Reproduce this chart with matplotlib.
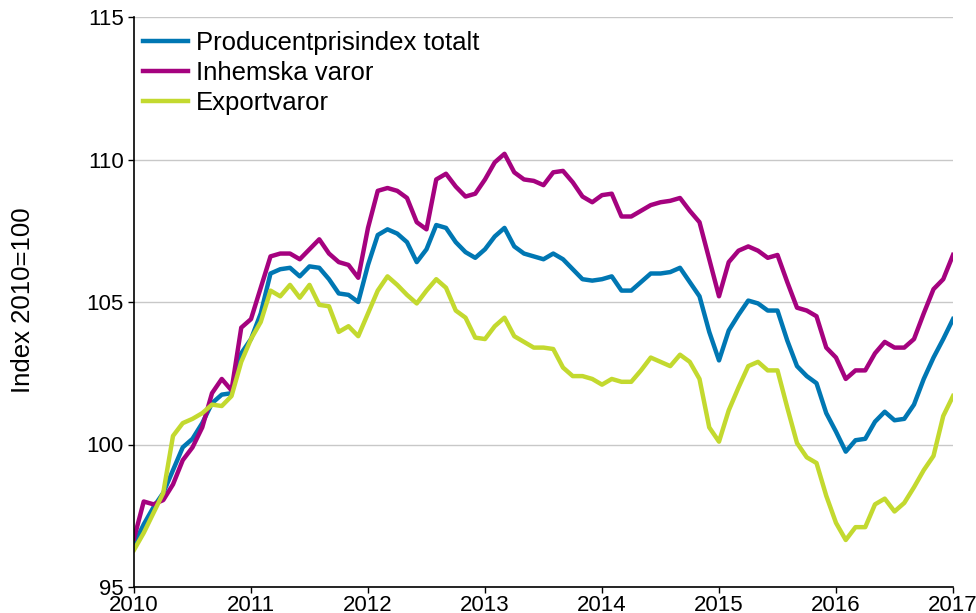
import numpy as np
import matplotlib.pyplot as plt

# monthly index values, Jan 2010 .. Jan 2017 (2010=100)
total = [
    96.5, 97.2, 97.8, 98.3, 99.1, 99.9, 100.2, 100.75, 101.45, 101.75, 101.8, 103.2,
    103.7, 104.6, 106.0, 106.15, 106.2, 105.9, 106.25, 106.2, 105.8, 105.3, 105.25, 105.0,
    106.3, 107.35, 107.55, 107.4, 107.1, 106.4, 106.85, 107.7, 107.6, 107.1, 106.75, 106.55,
    106.85, 107.3, 107.6, 106.95, 106.7, 106.6, 106.5, 106.7, 106.5, 106.15, 105.8, 105.75,
    105.8, 105.9, 105.4, 105.4, 105.7, 106.0, 106.0, 106.05, 106.2, 105.7, 105.2, 103.95,
    102.95, 104.0, 104.55, 105.05, 104.95, 104.7, 104.7, 103.65, 102.75, 102.4, 102.15, 101.1,
    100.45, 99.75, 100.15, 100.2, 100.8, 101.15, 100.85, 100.9, 101.4, 102.3, 103.05, 103.7,
    104.4,
]
domestic = [
    96.7, 98.0, 97.9, 98.05, 98.6, 99.45, 99.9, 100.6, 101.8, 102.3, 101.9, 104.1,
    104.4, 105.5, 106.6, 106.7, 106.7, 106.5, 106.85, 107.2, 106.7, 106.4, 106.3, 105.85,
    107.6, 108.9, 109.0, 108.9, 108.65, 107.8, 107.55, 109.3, 109.5, 109.05, 108.7, 108.8,
    109.3, 109.9, 110.2, 109.55, 109.3, 109.25, 109.1, 109.55, 109.6, 109.2, 108.7, 108.5,
    108.75, 108.8, 108.0, 108.0, 108.2, 108.4, 108.5, 108.55, 108.65, 108.2, 107.8, 106.5,
    105.2, 106.4, 106.8, 106.95, 106.8, 106.55, 106.65, 105.7, 104.8, 104.7, 104.5, 103.4,
    103.05, 102.3, 102.6, 102.6, 103.2, 103.6, 103.4, 103.4, 103.7, 104.6, 105.45, 105.8,
    106.65,
]
export = [
    96.3, 96.9, 97.6, 98.3, 100.3, 100.75, 100.9, 101.1, 101.4, 101.35, 101.7, 102.9,
    103.7, 104.3, 105.4, 105.2, 105.6, 105.15, 105.6, 104.9, 104.85, 103.95, 104.15, 103.8,
    104.6, 105.4, 105.9, 105.6, 105.25, 104.95, 105.4, 105.8, 105.5, 104.7, 104.45, 103.75,
    103.7, 104.15, 104.45, 103.8, 103.6, 103.4, 103.4, 103.35, 102.7, 102.4, 102.4, 102.3,
    102.1, 102.3, 102.2, 102.2, 102.6, 103.05, 102.9, 102.75, 103.15, 102.9, 102.3, 100.6,
    100.1, 101.2, 102.0, 102.75, 102.9, 102.6, 102.6, 101.3, 100.05, 99.55, 99.35, 98.2,
    97.25, 96.65, 97.1, 97.1, 97.9, 98.1, 97.65, 97.95, 98.5, 99.1, 99.6, 101.0,
    101.7,
]
labels = ["Producentprisindex totalt", "Inhemska varor", "Exportvaror"]
colors = ["#0077B3", "#A5027F", "#C3D92F"]
years = [2010, 2011, 2012, 2013, 2014, 2015, 2016, 2017]
yticks = [95, 100, 105, 110, 115]

plt.rcParams["font.family"] = ["Liberation Sans", "DejaVu Sans"]

x = 2010 + np.arange(len(total)) / 12

fig = plt.figure(figsize=(9.76, 6.13), dpi=100)
ax = fig.add_axes([134 / 976, 1 - 587 / 613, (953 - 134) / 976, 570 / 613])

for series, lab, col in zip([total, domestic, export], labels, colors):
    ax.plot(x, series, color=col, lw=3.2, label=lab, solid_joinstyle="round")

ax.set_xlim(2010, 2017)
ax.set_ylim(95, 115)
ax.set_xticks(years)
ax.set_xticklabels([str(y) for y in years])
ax.set_yticks(yticks)
ax.tick_params(labelsize=16, length=4, width=1, color="black")
ax.tick_params(axis="x", pad=2)
ax.grid(axis="y", color="#c8c8c8", lw=1)
ax.set_axisbelow(True)

for side in ["top", "right"]:
    ax.spines[side].set_visible(False)
ax.spines["left"].set_linewidth(1.2)
ax.spines["bottom"].set_linewidth(1.2)

ax.set_ylabel("Index 2010=100", fontsize=18.5)
ax.yaxis.set_label_coords(-0.121, 0.503)

ax.legend(loc="upper left", bbox_to_anchor=(0.011, 0.975), frameon=False,
          fontsize=18.5, handlelength=1.75, handletextpad=0.31,
          labelspacing=0.22, borderpad=0, borderaxespad=0)

fig.savefig("out.png", dpi=100)
